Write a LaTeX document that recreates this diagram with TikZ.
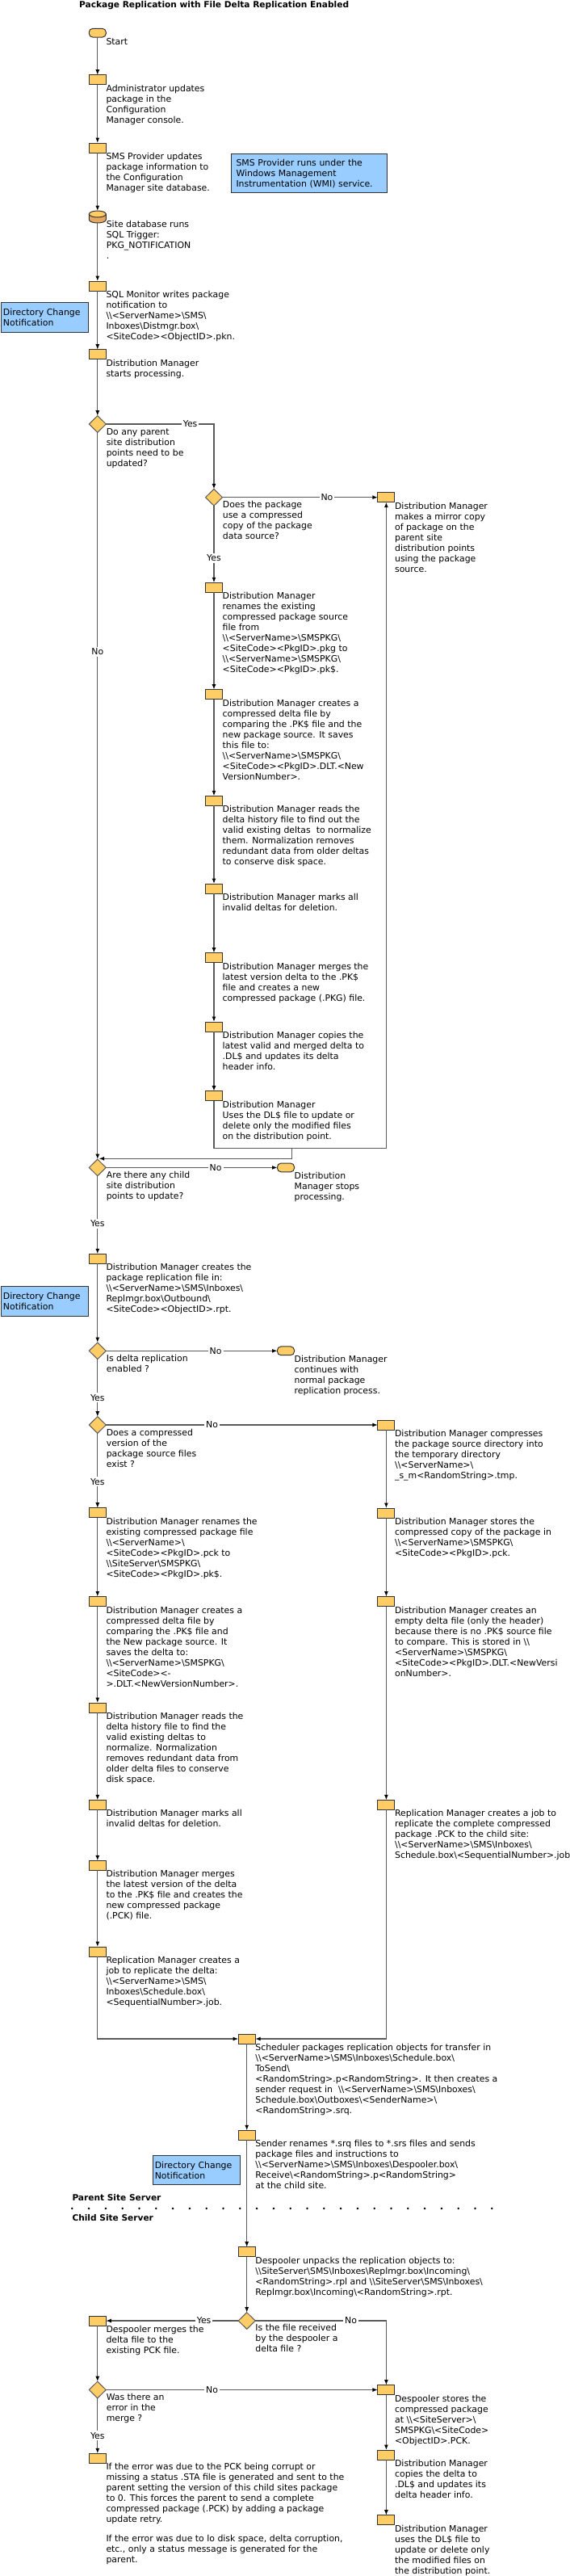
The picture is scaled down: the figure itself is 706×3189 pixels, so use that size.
\documentclass[tikz,border=0pt]{standalone}
\usepackage{fontspec}
\setmainfont{DejaVu Sans}
\usetikzlibrary{shapes.geometric,arrows.meta}
\newcommand{\bs}{\textbackslash}
\definecolor{boxfill}{HTML}{FFCC66}
\definecolor{dbside}{HTML}{E5A75F}
\definecolor{notefill}{HTML}{99CCFF}
\definecolor{linegray}{HTML}{5A5A5A}
\definecolor{edgegray}{HTML}{333333}
\tikzstyle{block} = [draw=edgegray, fill=boxfill, rectangle, line width=1pt, inner sep=0pt, outer sep=0pt,
    minimum height=12pt, minimum width=21pt]
\tikzstyle{ends} = [block, rounded corners=4.5pt, minimum height=10.7pt]
\tikzstyle{decision} = [draw=linegray, fill=boxfill, diamond, line width=1pt, inner sep=0pt, outer sep=0pt,
    minimum height=20.6pt, minimum width=21pt]
\tikzstyle{database} = [rectangle, inner sep=0pt, outer sep=0pt, minimum height=15pt, minimum width=21pt]
\tikzstyle{dbline} = [draw=edgegray, line width=1pt]
\tikzstyle{txt} = [anchor=north west, align=left, inner sep=0pt, font=\fontsize{10.9}{13}\selectfont,
    execute at begin node=\strut]
\tikzstyle{note} = [draw=edgegray, fill=notefill, rectangle, line width=1pt, anchor=north west, align=left,
    inner sep=0pt, font=\fontsize{10.9}{13}\selectfont, execute at begin node=\strut]
\tikzstyle{lab} = [fill=white, inner sep=2pt, font=\fontsize{10.9}{13}\selectfont]
\tikzstyle{heading} = [anchor=west, inner sep=0pt, font=\fontsize{10.6}{13}\selectfont\bfseries]
\tikzstyle{conn} = [draw=linegray, line width=1.2pt, ->]
\begin{document}
\begin{tikzpicture}[x=1pt, y=-1pt, >={Latex[length=6.5pt,width=5pt,black]}]
    \useasboundingbox (0,0) rectangle (706,3189);
    \node [heading] (title) at (98,7) {Package Replication with File Delta Replication Enabled};

    % Parent site, first column
    \node [ends] (start) at (120.8,40.7) {};
    \node [block] (admin) at (120.8,98.7) {};
    \node [block] (provider) at (120.8,183) {};
    \node [database] (sitedb) at (120.8,268.5) {};
    \filldraw [dbline, fill=dbside] (110.3,265) -- (110.3,272) arc [start angle=180, end angle=360, x radius=10.5pt, y radius=4pt] -- (131.3,265) -- cycle;
    \filldraw [dbline, fill=boxfill] (120.8,265) ellipse [x radius=10.5pt, y radius=4pt];
    \node [block] (sqlmon) at (120.8,354) {};
    \node [block] (diststart) at (120.8,438.7) {};
    \node [decision] (parentq) at (120.8,525) {};
    \node [decision] (childq) at (120.8,1445.4) {};
    \node [block] (creates) at (120.8,1558.3) {};
    \node [decision] (deltaq) at (120.8,1672.3) {};
    \node [decision] (compq) at (120.8,1764) {};
    \node [block] (rename) at (120.8,1872.7) {};
    \node [block] (delta) at (120.8,1982.5) {};
    \node [block] (reads) at (120.8,2114) {};
    \node [block] (marks) at (120.8,2234.3) {};
    \node [block] (merges) at (120.8,2309.3) {};
    \node [block] (jobbox) at (120.8,2416) {};

    % Parent sites branch
    \node [decision] (pkgq) at (265,615.7) {};
    \node [block] (prename) at (265,727.3) {};
    \node [block] (pdelta) at (265,859.7) {};
    \node [block] (preads) at (265,991.3) {};
    \node [block] (pmarks) at (265,1100) {};
    \node [block] (pmerges) at (265,1185.7) {};
    \node [block] (pcopies) at (265,1271) {};
    \node [block] (puses) at (265,1356.7) {};
    \node [block] (mirror) at (478.4,615.7) {};
    \coordinate (mirrorloop) at (265,1421.3);
    \coordinate (loopjoin) at (361.6,1421.3);
    \coordinate (joinend) at (122.6,1434.3);
    \node [ends] (stopped) at (354,1445.4) {};
    \node [ends] (normal) at (354,1672.3) {};

    % No compressed copy
    \node [block] (compbox) at (478.4,1764) {};
    \node [block] (stores) at (478.4,1873) {};
    \node [block] (empty) at (478.4,1982.5) {};
    \node [block] (replic) at (478.4,2234.3) {};

    % Transfer
    \node [block] (sched) at (305.7,2524) {};
    \node [block] (sender) at (305.7,2643.3) {};
    \node [block] (despool) at (305.7,2787.7) {};

    % Child site
    \node [decision] (fileq) at (305.7,2873) {};
    \node [block] (pckmerge) at (120.8,2873) {};
    \node [decision] (errq) at (120.8,2958.5) {};
    \node [block] (errbox) at (120.8,3043.3) {};
    \node [block] (pckstore) at (478.4,2958.5) {};
    \node [block] (ccopies) at (478.4,3039) {};
    \node [block] (cuses) at (478.4,3119.7) {};

    % Texts beside the shapes
    \node [txt] (starttxt) at (start.south east) {Start};
    \node [txt] (admintxt) at (admin.south east) {Administrator updates\\package in the\\Configuration\\Manager console.};
    \node [txt] (providertxt) at (provider.south east) {SMS Provider updates\\package information to\\the Configuration\\Manager site database.};
    \node [txt] (sitedbtxt) at (131.6,272.7) {Site database runs\\SQL Trigger:\\PKG\_NOTIFICATION\\.};
    \node [txt] (sqlmontxt) at (sqlmon.south east) {SQL Monitor writes package\\notification to\\\bs\bs<ServerName>\bs{}SMS\bs\\Inboxes\bs{}Distmgr.box\bs\\<SiteCode><ObjectID>.pkn.};
    \node [txt] (diststarttxt) at (diststart.south east) {Distribution Manager\\starts processing.};
    \node [txt] (parentqtxt) at (131.6,530) {Do any parent\\site distribution\\points need to be\\updated?};
    \node [txt] (pkgqtxt) at (275.7,620.5) {Does the package\\use a compressed\\copy of the package\\data source?};
    \node [txt] (mirrortxt) at (mirror.south east) {Distribution Manager\\makes a mirror copy\\of package on the\\parent site\\distribution points\\using the package\\source.};
    \node [txt] (prenametxt) at (prename.south east) {Distribution Manager\\renames the existing\\compressed package source\\file from\\\bs\bs<ServerName>\bs{}SMSPKG\bs\\<SiteCode><PkgID>.pkg to\\\bs\bs<ServerName>\bs{}SMSPKG\bs\\<SiteCode><PkgID>.pk\$.};
    \node [txt] (pdeltatxt) at (pdelta.south east) {Distribution Manager creates a\\compressed delta file by\\comparing the .PK\$ file and the\\new package source. It saves\\this file to:\\\bs\bs<ServerName>\bs{}SMSPKG\bs\\<SiteCode><PkgID>.DLT.<New\\VersionNumber>.};
    \node [txt] (preadstxt) at (preads.south east) {Distribution Manager reads the\\delta history file to find out the\\valid existing deltas\ \ to normalize\\them. Normalization removes\\redundant data from older deltas\\to conserve disk space.};
    \node [txt] (pmarkstxt) at (pmarks.south east) {Distribution Manager marks all\\invalid deltas for deletion.};
    \node [txt] (pmergestxt) at (pmerges.south east) {Distribution Manager merges the\\latest version delta to the .PK\$\\file and creates a new\\compressed package (.PKG) file.};
    \node [txt] (pcopiestxt) at (pcopies.south east) {Distribution Manager copies the\\latest valid and merged delta to\\.DL\$ and updates its delta\\header info.};
    \node [txt] (pusestxt) at (puses.south east) {Distribution Manager\\Uses the DL\$ file to update or\\delete only the modified files\\on the distribution point.};
    \node [txt] (childqtxt) at (131.6,1449.5) {Are there any child\\site distribution\\points to update?};
    \node [txt] (stoppedtxt) at (stopped.south east) {Distribution\\Manager stops\\processing.};
    \node [txt] (createstxt) at (creates.south east) {Distribution Manager creates the\\package replication file in:\\\bs\bs<ServerName>\bs{}SMS\bs{}Inboxes\bs\\Replmgr.box\bs{}Outbound\bs\\<SiteCode><ObjectID>.rpt.};
    \node [txt] (deltaqtxt) at (131.6,1676.5) {Is delta replication\\enabled ?};
    \node [txt] (normaltxt) at (normal.south east) {Distribution Manager\\continues with\\normal package\\replication process.};
    \node [txt] (compqtxt) at (131.6,1768.5) {Does a compressed\\version of the\\package source files\\exist ?};
    \node [txt] (compboxtxt) at (compbox.south east) {Distribution Manager compresses\\the package source directory into\\the temporary directory\\\bs\bs<ServerName>\bs\\\_s\_m<RandomString>.tmp.};
    \node [txt] (renametxt) at (rename.south east) {Distribution Manager renames the\\existing compressed package file\\\bs\bs<ServerName>\bs\\<SiteCode><PkgID>.pck to\\\bs\bs{}SiteServer\bs{}SMSPKG\bs\\<SiteCode><PkgID>.pk\$.};
    \node [txt] (storestxt) at (stores.south east) {Distribution Manager stores the\\compressed copy of the package in\\\bs\bs<ServerName>\bs{}SMSPKG\bs\\<SiteCode><PkgID>.pck.};
    \node [txt] (deltatxt) at (delta.south east) {Distribution Manager creates a\\compressed delta file by\\comparing the .PK\$ file and\\the New package source. It\\saves the delta to:\\\bs\bs<ServerName>\bs{}SMSPKG\bs\\<SiteCode><-\\>.DLT.<NewVersionNumber>.};
    \node [txt] (emptytxt) at (empty.south east) {Distribution Manager creates an\\empty delta file (only the header)\\because there is no .PK\$ source file\\to compare. This is stored in \bs\bs\\<ServerName>\bs{}SMSPKG\bs\\<SiteCode><PkgID>.DLT.<NewVersi\\onNumber>.};
    \node [txt] (readstxt) at (reads.south east) {Distribution Manager reads the\\delta history file to find the\\valid existing deltas to\\normalize. Normalization\\removes redundant data from\\older delta files to conserve\\disk space.};
    \node [txt] (markstxt) at (marks.south east) {Distribution Manager marks all\\invalid deltas for deletion.};
    \node [txt] (replictxt) at (replic.south east) {Replication Manager creates a job to\\replicate the complete compressed\\package .PCK to the child site:\\\bs\bs<ServerName>\bs{}SMS\bs{}Inboxes\bs\\Schedule.box\bs<SequentialNumber>.job.};
    \node [txt] (mergestxt) at (merges.south east) {Distribution Manager merges\\the latest version of the delta\\to the .PK\$ file and creates the\\new compressed package\\(.PCK) file.};
    \node [txt] (jobboxtxt) at (jobbox.south east) {Replication Manager creates a\\job to replicate the delta:\\\bs\bs<ServerName>\bs{}SMS\bs\\Inboxes\bs{}Schedule.box\bs\\<SequentialNumber>.job.};
    \node [txt] (schedtxt) at (sched.south east) {Scheduler packages replication objects for transfer in\\\bs\bs<ServerName>\bs{}SMS\bs{}Inboxes\bs{}Schedule.box\bs\\ToSend\bs\\<RandomString>.p<RandomString>. It then creates a\\sender request in\ \ \bs\bs<ServerName>\bs{}SMS\bs{}Inboxes\bs\\Schedule.box\bs{}Outboxes\bs<SenderName>\bs\\<RandomString>.srq.};
    \node [txt] (sendertxt) at (sender.south east) {Sender renames *.srq files to *.srs files and sends\\package files and instructions to\\\bs\bs<ServerName>\bs{}SMS\bs{}Inboxes\bs{}Despooler.box\bs\\Receive\bs<RandomString>.p<RandomString>\\at the child site.};
    \node [txt] (despooltxt) at (despool.south east) {Despooler unpacks the replication objects to:\\\bs\bs{}SiteServer\bs{}SMS\bs{}Inboxes\bs{}Replmgr.box\bs{}Incoming\bs\\<RandomString>.rpl and \bs\bs{}SiteServer\bs{}SMS\bs{}Inboxes\bs\\Replmgr.box\bs{}Incoming\bs<RandomString>.rpt.};
    \node [txt] (fileqtxt) at (316.2,2877.3) {Is the file received\\by the despooler a\\delta file ?};
    \node [txt] (pckmergetxt) at (pckmerge.south east) {Despooler merges the\\delta file to the\\existing PCK file.};
    \node [txt] (errqtxt) at (131.6,2962.7) {Was there an\\error in the\\merge ?};
    \node [txt] (errboxtxt) at (errbox.south east) {If the error was due to the PCK being corrupt or\\missing a status .STA file is generated and sent to the\\parent setting the version of this child sites package\\to 0. This forces the parent to send a complete\\compressed package (.PCK) by adding a package\\update retry.\\[11pt]If the error was due to lo disk space, delta corruption,\\etc., only a status message is generated for the\\parent.};
    \node [txt] (pckstoretxt) at (pckstore.south east) {Despooler stores the\\compressed package\\at \bs\bs<SiteServer>\bs\\SMSPKG\bs<SiteCode>\\<ObjectID>.PCK.};
    \node [txt] (ccopiestxt) at (ccopies.south east) {Distribution Manager\\copies the delta to\\.DL\$ and updates its\\delta header info.};
    \node [txt] (cusestxt) at (cuses.south east) {Distribution Manager\\uses the DL\$ file to\\update or delete only\\the modified files on\\the distribution point.};

    % Blue notes
    \node [note, minimum width=193pt, minimum height=48.6pt, text width=181pt] (wminote) at (286,189.7) {SMS Provider runs under the\\Windows Management\\Instrumentation (WMI) service.};
    \node [note, minimum width=108pt, minimum height=36.4pt, text width=103pt] (dirnotea) at (1,374.3) {Directory Change\\Notification};
    \node [note, minimum width=108pt, minimum height=36.4pt, text width=103pt] (dirnoteb) at (1,1592.3) {Directory Change\\Notification};
    \node [note, minimum width=108.5pt, minimum height=36.6pt, text width=103pt] (dirnotec) at (188.5,2667.7) {Directory Change\\Notification};

    % Server boundary
    \node [heading] (parenthead) at (89.3,2721) {Parent Site Server};
    \node [heading] (childhead) at (89.3,2746) {Child Site Server};
    \foreach \i in {0,...,25}
        \fill (89.3+20.8*\i,2734) circle (1.4pt);

    % Connectors
    \foreach \a/\b in {start/admin, admin/provider, provider/sitedb, sitedb/sqlmon, sqlmon/diststart,
        diststart/parentq, prename/pdelta, pdelta/preads, preads/pmarks, pmarks/pmerges, pmerges/pcopies,
        pcopies/puses, creates/deltaq, rename/delta, delta/reads, reads/marks, marks/merges, merges/jobbox,
        compbox/stores, stores/empty, empty/replic, sched/sender, sender/despool, despool/fileq,
        pckmerge/errq, pckstore/ccopies, ccopies/cuses}
        \draw [conn] (\a.south) -- (\b.north);

    \draw [conn] (parentq.east) -| node [lab, pos=0.39] {Yes} (pkgq.north);
    \draw [conn] (pkgq.east) -- node [lab, pos=0.673] {No} (mirror.west);
    \draw [conn] (pkgq.south) -- node [lab, pos=0.68] {Yes} (prename.north);
    \draw [conn] (parentq.south) -- node [lab, pos=0.302] {No} (childq.north);
    \draw [conn] (puses.south) -- (mirrorloop) -| (mirror.south);
    \draw [conn] (loopjoin) |- (joinend);
    \draw [conn] (childq.east) -- node [lab, pos=0.64] {No} (stopped.west);
    \draw [conn] (childq.south) -- node [lab, pos=0.61] {Yes} (creates.north);
    \draw [conn] (deltaq.east) -- node [lab, pos=0.64] {No} (normal.west);
    \draw [conn] (deltaq.south) -- node [lab, pos=0.67] {Yes} (compq.north);
    \draw [conn] (compq.east) -- node [lab, pos=0.39] {No} (compbox.west);
    \draw [conn] (compq.south) -- node [lab, pos=0.65] {Yes} (rename.north);
    \draw [conn] (jobbox.south) |- (sched.west);
    \draw [conn] (replic.south) |- (sched.east);
    \draw [conn] (fileq.west) -- node [lab, pos=0.26] {Yes} (pckmerge.east);
    \draw [conn] (fileq.east) -| node [lab, pos=0.365] {No} (pckstore.north);
    \draw [conn] (errq.east) -- node [lab, pos=0.39] {No} (pckstore.west);
    \draw [conn] (errq.south) -- node [lab, pos=0.68] {Yes} (errbox.north);
\end{tikzpicture}
\end{document}
